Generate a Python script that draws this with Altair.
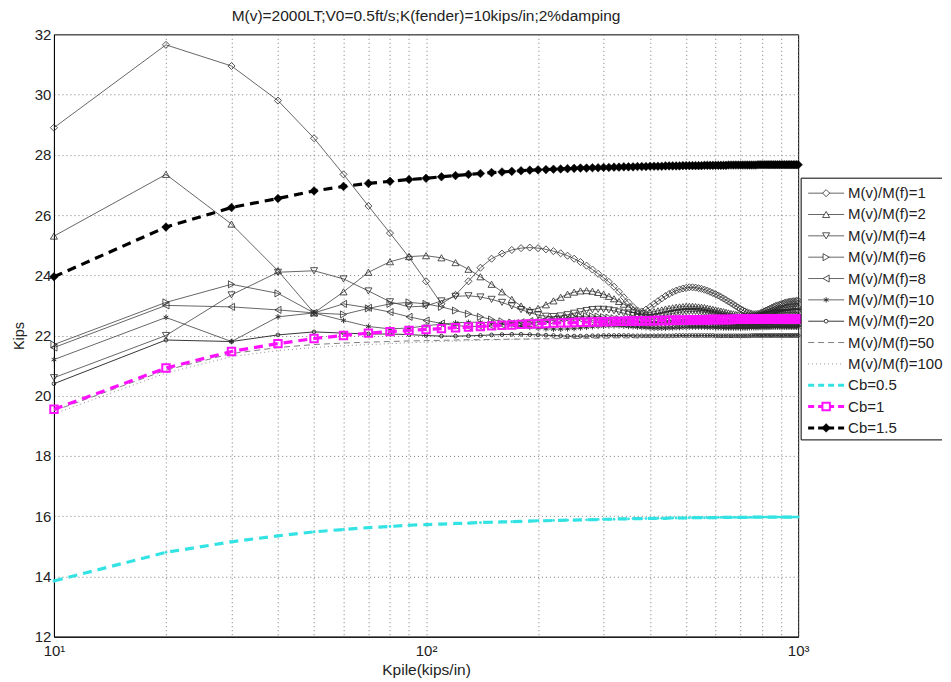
import altair as alt
import pandas as pd

TITLE = "M(v)=2000LT;V0=0.5ft/s;K(fender)=10kips/in;2%damping"

kpile = [10, 20, 30, 40, 50, 60, 70, 80, 90, 100,
         110, 120, 130, 140, 150, 160, 170, 180, 190, 200,
         210, 220, 230, 240, 250, 260, 270, 280, 290, 300,
         310, 320, 330, 340, 350, 360, 370, 380, 390, 400,
         410, 420, 430, 440, 450, 460, 470, 480, 490, 500,
         510, 520, 530, 540, 550, 560, 570, 580, 590, 600,
         610, 620, 630, 640, 650, 660, 670, 680, 690, 700,
         710, 720, 730, 740, 750, 760, 770, 780, 790, 800,
         810, 820, 830, 840, 850, 860, 870, 880, 890, 900,
         910, 920, 930, 940, 950, 960, 970, 980, 990, 1000]

m1 = [28.9, 31.65, 30.95, 29.8, 28.55, 27.35, 26.3, 25.4, 24.6, 23.8,
      23.05, 23.35, 23.8, 24.25, 24.55, 24.72, 24.84, 24.9, 24.92, 24.9,
      24.86, 24.8, 24.73, 24.65, 24.55, 24.44, 24.32, 24.19, 24.05, 23.92,
      23.78, 23.62, 23.45, 23.27, 23.1, 22.95, 22.83, 22.8, 22.86, 22.95,
      23.05, 23.14, 23.23, 23.31, 23.38, 23.44, 23.49, 23.53, 23.56, 23.58,
      23.6, 23.6, 23.59, 23.57, 23.55, 23.52, 23.49, 23.45, 23.41, 23.37,
      23.33, 23.28, 23.23, 23.18, 23.13, 23.08, 23.03, 22.98, 22.93, 22.88,
      22.84, 22.8, 22.77, 22.74, 22.72, 22.71, 22.71, 22.72, 22.74, 22.77,
      22.8, 22.83, 22.86, 22.89, 22.92, 22.95, 22.98, 23.0, 23.02, 23.04,
      23.06, 23.08, 23.1, 23.11, 23.12, 23.13, 23.14, 23.14, 23.15, 23.15]

m2 = [25.3, 27.35, 25.7, 24.15, 22.75, 23.45, 24.1, 24.45, 24.62, 24.65,
      24.58, 24.42, 24.2, 23.95, 23.7, 23.45, 23.2, 22.98, 22.85, 22.9,
      23.02, 23.15, 23.27, 23.37, 23.44, 23.48, 23.49, 23.47, 23.43, 23.37,
      23.3, 23.22, 23.13, 23.04, 22.95, 22.87, 22.8, 22.75, 22.74, 22.76,
      22.79, 22.82, 22.85, 22.88, 22.9, 22.92, 22.94, 22.95, 22.96, 22.97,
      22.97, 22.97, 22.96, 22.95, 22.94, 22.93, 22.91, 22.89, 22.87, 22.85,
      22.83, 22.81, 22.79, 22.77, 22.75, 22.73, 22.72, 22.7, 22.69, 22.68,
      22.67, 22.66, 22.66, 22.66, 22.66, 22.67, 22.68, 22.69, 22.7, 22.72,
      22.74, 22.76, 22.78, 22.8, 22.82, 22.84, 22.86, 22.88, 22.9, 22.91,
      22.92, 22.93, 22.94, 22.95, 22.96, 22.96, 22.97, 22.97, 22.98, 22.98]

m4 = [20.6, 22.0, 23.35, 24.1, 24.15, 23.88, 23.48, 23.12, 22.95, 22.98,
      23.15, 23.3, 23.32, 23.28, 23.2, 23.1, 22.98, 22.86, 22.76, 22.68,
      22.64, 22.63, 22.65, 22.69, 22.74, 22.79, 22.83, 22.86, 22.87, 22.87,
      22.85, 22.82, 22.78, 22.74, 22.7, 22.66, 22.63, 22.61, 22.6, 22.6,
      22.61, 22.63, 22.65, 22.68, 22.71, 22.73, 22.75, 22.77, 22.78, 22.79,
      22.8, 22.8, 22.8, 22.79, 22.78, 22.77, 22.75, 22.73, 22.71, 22.69,
      22.67, 22.65, 22.63, 22.61, 22.6, 22.58, 22.57, 22.56, 22.55, 22.55,
      22.55, 22.55, 22.56, 22.57, 22.58, 22.59, 22.6, 22.62, 22.63, 22.65,
      22.66, 22.68, 22.69, 22.7, 22.71, 22.72, 22.73, 22.74, 22.74, 22.75,
      22.75, 22.76, 22.76, 22.76, 22.77, 22.77, 22.77, 22.77, 22.77, 22.77]

m6 = [21.7, 23.1, 23.7, 23.4, 22.75, 22.7, 22.9, 23.05, 23.1, 23.05,
      22.95, 22.83, 22.72, 22.62, 22.53, 22.47, 22.43, 22.41, 22.41, 22.43,
      22.46, 22.5, 22.54, 22.58, 22.61, 22.63, 22.64, 22.64, 22.63, 22.61,
      22.59, 22.57, 22.55, 22.52, 22.5, 22.48, 22.46, 22.45, 22.44, 22.44,
      22.44, 22.45, 22.46, 22.47, 22.48, 22.49, 22.5, 22.51, 22.52, 22.52,
      22.53, 22.53, 22.53, 22.53, 22.52, 22.52, 22.51, 22.5, 22.49, 22.48,
      22.47, 22.46, 22.45, 22.44, 22.43, 22.43, 22.42, 22.42, 22.41, 22.41,
      22.41, 22.41, 22.41, 22.42, 22.42, 22.42, 22.43, 22.43, 22.44, 22.44,
      22.45, 22.45, 22.46, 22.46, 22.47, 22.47, 22.48, 22.48, 22.48, 22.49,
      22.49, 22.49, 22.49, 22.5, 22.5, 22.5, 22.5, 22.5, 22.5, 22.5]

m8 = [21.6, 23.0, 22.95, 22.85, 22.75, 23.05, 22.92, 22.78, 22.62, 22.5,
      22.4, 22.33, 22.3, 22.3, 22.32, 22.36, 22.4, 22.44, 22.48, 22.51,
      22.53, 22.55, 22.56, 22.56, 22.55, 22.54, 22.52, 22.5, 22.48, 22.46,
      22.44, 22.42, 22.4, 22.38, 22.37, 22.36, 22.35, 22.35, 22.35, 22.35,
      22.36, 22.37, 22.38, 22.39, 22.4, 22.41, 22.42, 22.42, 22.43, 22.43,
      22.43, 22.43, 22.43, 22.42, 22.42, 22.41, 22.4, 22.4, 22.39, 22.38,
      22.38, 22.37, 22.37, 22.36, 22.36, 22.35, 22.35, 22.35, 22.35, 22.35,
      22.35, 22.35, 22.36, 22.36, 22.36, 22.37, 22.37, 22.38, 22.38, 22.38,
      22.39, 22.39, 22.39, 22.4, 22.4, 22.4, 22.4, 22.41, 22.41, 22.41,
      22.41, 22.41, 22.41, 22.41, 22.41, 22.41, 22.41, 22.41, 22.41, 22.41]

m10 = [21.2, 22.6, 21.8, 22.62, 22.75, 22.5, 22.3, 22.22, 22.25, 22.32,
       22.38, 22.42, 22.44, 22.44, 22.42, 22.39, 22.35, 22.31, 22.27, 22.24,
       22.22, 22.21, 22.21, 22.22, 22.23, 22.25, 22.27, 22.29, 22.3, 22.31,
       22.32, 22.32, 22.32, 22.31, 22.3, 22.29, 22.28, 22.27, 22.26, 22.25,
       22.24, 22.24, 22.24, 22.24, 22.25, 22.25, 22.26, 22.26, 22.27, 22.27,
       22.28, 22.28, 22.28, 22.28, 22.28, 22.28, 22.27, 22.27, 22.27, 22.26,
       22.26, 22.26, 22.25, 22.25, 22.25, 22.25, 22.25, 22.25, 22.25, 22.25,
       22.25, 22.25, 22.25, 22.26, 22.26, 22.26, 22.26, 22.26, 22.27, 22.27,
       22.27, 22.27, 22.27, 22.27, 22.28, 22.28, 22.28, 22.28, 22.28, 22.28,
       22.28, 22.28, 22.28, 22.28, 22.28, 22.28, 22.28, 22.28, 22.28, 22.28]

m20 = [20.4, 21.85, 21.8, 22.02, 22.12, 22.08, 22.05, 22.05, 22.03, 22.0,
       21.98, 21.98, 21.99, 22.0, 22.02, 22.03, 22.04, 22.04, 22.03, 22.02,
       22.01, 22.0, 21.99, 21.98, 21.98, 21.98, 21.98, 21.99, 21.99, 22.0,
       22.0, 22.0, 22.0, 22.0, 22.0, 21.99, 21.99, 21.99, 21.99, 21.99,
       21.99, 21.99, 21.99, 21.99, 21.99, 21.99, 22.0, 22.0, 22.0, 22.0,
       22.0, 22.0, 22.0, 22.0, 22.0, 22.0, 22.0, 22.0, 22.0, 21.99,
       21.99, 21.99, 21.99, 21.99, 21.99, 21.99, 21.99, 21.99, 21.99, 21.99,
       21.99, 21.99, 21.99, 21.99, 22.0, 22.0, 22.0, 22.0, 22.0, 22.0,
       22.0, 22.0, 22.0, 22.0, 22.0, 22.0, 22.0, 22.0, 22.0, 22.0,
       22.0, 22.0, 22.0, 22.0, 22.0, 22.0, 22.0, 22.0, 22.0, 22.0]

m50 = [19.5, 20.85, 21.4, 21.6, 21.7, 21.75, 21.78, 21.8, 21.82, 21.83,
       21.84, 21.85, 21.86, 21.86, 21.87, 21.87, 21.88, 21.88, 21.88, 21.89,
       21.89, 21.89, 21.9, 21.9, 21.9, 21.9, 21.91, 21.91, 21.91, 21.91,
       21.91, 21.92, 21.92, 21.92, 21.92, 21.92, 21.92, 21.93, 21.93, 21.93,
       21.93, 21.93, 21.93, 21.93, 21.93, 21.94, 21.94, 21.94, 21.94, 21.94,
       21.94, 21.94, 21.94, 21.94, 21.94, 21.94, 21.94, 21.94, 21.94, 21.94,
       21.95, 21.95, 21.95, 21.95, 21.95, 21.95, 21.95, 21.95, 21.95, 21.95,
       21.95, 21.95, 21.95, 21.95, 21.95, 21.95, 21.95, 21.95, 21.95, 21.95,
       21.95, 21.95, 21.95, 21.95, 21.95, 21.95, 21.95, 21.95, 21.95, 21.95,
       21.95, 21.95, 21.95, 21.95, 21.95, 21.95, 21.95, 21.95, 21.95, 21.95]

m100 = [19.4, 20.75, 21.3, 21.5, 21.6, 21.66, 21.7, 21.73, 21.76, 21.78,
        21.8, 21.81, 21.83, 21.84, 21.85, 21.86, 21.87, 21.88, 21.89, 21.9,
        21.9, 21.91, 21.91, 21.92, 21.92, 21.93, 21.93, 21.94, 21.94, 21.94,
        21.95, 21.95, 21.95, 21.95, 21.96, 21.96, 21.96, 21.96, 21.96, 21.97,
        21.97, 21.97, 21.97, 21.97, 21.97, 21.97, 21.98, 21.98, 21.98, 21.98,
        21.98, 21.98, 21.98, 21.98, 21.98, 21.98, 21.98, 21.99, 21.99, 21.99,
        21.99, 21.99, 21.99, 21.99, 21.99, 21.99, 21.99, 21.99, 21.99, 21.99,
        21.99, 21.99, 22.0, 22.0, 22.0, 22.0, 22.0, 22.0, 22.0, 22.0,
        22.0, 22.0, 22.0, 22.0, 22.0, 22.0, 22.0, 22.0, 22.0, 22.0,
        22.0, 22.0, 22.0, 22.0, 22.0, 22.0, 22.0, 22.0, 22.0, 22.0]

cb05 = [13.85, 14.8, 15.15, 15.35, 15.48, 15.56, 15.62, 15.66, 15.7, 15.72,
        15.74, 15.76, 15.77, 15.79, 15.8, 15.81, 15.82, 15.83, 15.84, 15.85,
        15.85, 15.86, 15.86, 15.87, 15.87, 15.88, 15.88, 15.89, 15.89, 15.9,
        15.9, 15.9, 15.91, 15.91, 15.91, 15.92, 15.92, 15.92, 15.92, 15.93,
        15.93, 15.93, 15.93, 15.93, 15.94, 15.94, 15.94, 15.94, 15.94, 15.94,
        15.95, 15.95, 15.95, 15.95, 15.95, 15.95, 15.95, 15.95, 15.95, 15.95,
        15.96, 15.96, 15.96, 15.96, 15.96, 15.96, 15.96, 15.96, 15.96, 15.96,
        15.96, 15.96, 15.96, 15.96, 15.96, 15.97, 15.97, 15.97, 15.97, 15.97,
        15.97, 15.97, 15.97, 15.97, 15.97, 15.97, 15.97, 15.97, 15.97, 15.97,
        15.97, 15.97, 15.97, 15.97, 15.97, 15.97, 15.97, 15.97, 15.97, 15.97]

cb1 = [19.55, 20.92, 21.47, 21.73, 21.9, 22.0, 22.08, 22.13, 22.17, 22.2,
       22.23, 22.26, 22.28, 22.3, 22.32, 22.34, 22.35, 22.37, 22.38, 22.39,
       22.4, 22.41, 22.42, 22.42, 22.43, 22.44, 22.44, 22.45, 22.45, 22.46,
       22.46, 22.47, 22.47, 22.47, 22.48, 22.48, 22.48, 22.49, 22.49, 22.49,
       22.5, 22.5, 22.5, 22.5, 22.5, 22.51, 22.51, 22.51, 22.51, 22.51,
       22.52, 22.52, 22.52, 22.52, 22.52, 22.52, 22.52, 22.53, 22.53, 22.53,
       22.53, 22.53, 22.53, 22.53, 22.53, 22.53, 22.54, 22.54, 22.54, 22.54,
       22.54, 22.54, 22.54, 22.54, 22.54, 22.54, 22.54, 22.54, 22.55, 22.55,
       22.55, 22.55, 22.55, 22.55, 22.55, 22.55, 22.55, 22.55, 22.55, 22.55,
       22.55, 22.55, 22.55, 22.55, 22.55, 22.55, 22.55, 22.55, 22.55, 22.55]

cb15 = [23.95, 25.6, 26.25, 26.55, 26.8, 26.95, 27.05, 27.12, 27.18, 27.22,
        27.27, 27.31, 27.35, 27.38, 27.41, 27.43, 27.45, 27.47, 27.49, 27.5,
        27.51, 27.52, 27.53, 27.54, 27.55, 27.56, 27.56, 27.57, 27.57, 27.58,
        27.58, 27.59, 27.59, 27.6, 27.6, 27.6, 27.61, 27.61, 27.61, 27.62,
        27.62, 27.62, 27.62, 27.63, 27.63, 27.63, 27.63, 27.63, 27.64, 27.64,
        27.64, 27.64, 27.64, 27.64, 27.64, 27.65, 27.65, 27.65, 27.65, 27.65,
        27.65, 27.65, 27.65, 27.65, 27.66, 27.66, 27.66, 27.66, 27.66, 27.66,
        27.66, 27.66, 27.66, 27.66, 27.66, 27.66, 27.66, 27.67, 27.67, 27.67,
        27.67, 27.67, 27.67, 27.67, 27.67, 27.67, 27.67, 27.67, 27.67, 27.67,
        27.67, 27.67, 27.67, 27.67, 27.67, 27.67, 27.67, 27.67, 27.67, 27.67]

names = ["M(v)/M(f)=1", "M(v)/M(f)=2", "M(v)/M(f)=4", "M(v)/M(f)=6",
         "M(v)/M(f)=8", "M(v)/M(f)=10", "M(v)/M(f)=20", "M(v)/M(f)=50",
         "M(v)/M(f)=100", "Cb=0.5", "Cb=1", "Cb=1.5"]
values = [m1, m2, m4, m6, m8, m10, m20, m50, m100, cb05, cb1, cb15]

ytick_values = [12, 14, 16, 18, 20, 22, 24, 26, 28, 30, 32]
xgrid_values = [10, 20, 30, 40, 50, 60, 70, 80, 90,
                100, 200, 300, 400, 500, 600, 700, 800, 900, 1000]

# ---- styles ----
ASTERISK = "M0,-1L0,1M-0.87,-0.5L0.87,0.5M-0.87,0.5L0.87,-0.5"
LINE_C = "#404040"
MK_C = "#2a2a2a"
styles = {
    "M(v)/M(f)=1": dict(color=LINE_C, width=0.8, dash=None, shape="diamond", size=50, filled=False, mcolor=MK_C, mw=0.8),
    "M(v)/M(f)=2": dict(color=LINE_C, width=0.8, dash=None, shape="triangle-up", size=50, filled=False, mcolor=MK_C, mw=0.8),
    "M(v)/M(f)=4": dict(color=LINE_C, width=0.8, dash=None, shape="triangle-down", size=50, filled=False, mcolor=MK_C, mw=0.8),
    "M(v)/M(f)=6": dict(color=LINE_C, width=0.8, dash=None, shape="triangle-right", size=50, filled=False, mcolor=MK_C, mw=0.8),
    "M(v)/M(f)=8": dict(color=LINE_C, width=0.8, dash=None, shape="triangle-left", size=50, filled=False, mcolor=MK_C, mw=0.8),
    "M(v)/M(f)=10": dict(color=LINE_C, width=0.8, dash=None, shape=ASTERISK, size=30, filled=False, mcolor=MK_C, mw=0.9),
    "M(v)/M(f)=20": dict(color="#202020", width=0.9, dash=None, shape="circle", size=14, filled=False, mcolor=MK_C, mw=0.9),
    "M(v)/M(f)=50": dict(color="#707070", width=0.9, dash=[6, 4], shape=None),
    "M(v)/M(f)=100": dict(color="#808080", width=0.9, dash=[1, 3], shape=None),
    "Cb=0.5": dict(color="#33e3e3", width=3.2, dash=[9, 6], shape="circle", size=8, filled=True, mcolor="#33e3e3", mw=0),
    "Cb=1": dict(color="#ff10ff", width=3.2, dash=[9, 6], shape="square", size=55, filled=False, mcolor="#ff10ff", mw=2),
    "Cb=1.5": dict(color="#000000", width=3.2, dash=[9, 6], shape="diamond", size=75, filled=True, mcolor="#000000", mw=0.5),
}

rows = []
for name, vals in zip(names, values):
    for k, v in zip(kpile, vals):
        rows.append({"series": name, "k": k, "kips": v})
df = pd.DataFrame(rows)
legend_df = pd.DataFrame({"series": names})

FONT = "Liberation Sans"

x_enc = alt.X(
    "k:Q",
    scale=alt.Scale(type="log", domain=[10, 1000], nice=False),
    axis=alt.Axis(
        values=xgrid_values,
        labelExpr="datum.value == 10 ? '10¹' : datum.value == 100 ? '10²' : datum.value == 1000 ? '10³' : ''",
        title="Kpile(kips/in)",
        grid=True, gridDash=[1, 3], gridColor="#777777", gridWidth=1,
        ticks=False, labelPadding=7, labelFontSize=15, titleFontSize=15.5,
        titleFontWeight="normal", titlePadding=4, domainColor="#000000",
        labelColor="#222222", titleColor="#222222", labelFlush=False,
    ),
)
y_enc = alt.Y(
    "kips:Q",
    scale=alt.Scale(domain=[12, 32], nice=False, zero=False),
    axis=alt.Axis(
        values=ytick_values, format="d", title="Kips",
        grid=True, gridDash=[1, 3], gridColor="#777777", gridWidth=1,
        ticks=False, labelPadding=3, labelFontSize=15, titleFontSize=14.5,
        titleFontWeight="normal", titlePadding=8, domainColor="#000000",
        labelColor="#222222", titleColor="#222222",
    ),
)

main_layers = []
for name in names:
    st = styles[name]
    base = alt.Chart(df).transform_filter(alt.datum.series == name)
    lkw = dict(color=st["color"], strokeWidth=st["width"])
    if st["dash"]:
        lkw["strokeDash"] = st["dash"]
    main_layers.append(base.mark_line(**lkw).encode(x=x_enc, y=y_enc, order="k:Q"))
    if st["shape"]:
        pkw = dict(shape=st["shape"], size=st["size"], filled=st["filled"],
                   opacity=1, strokeWidth=st["mw"])
        if st["filled"]:
            pkw["fill"] = st["mcolor"]
            pkw["stroke"] = st["mcolor"]
        else:
            pkw["stroke"] = st["mcolor"]
            pkw["fill"] = "transparent"
        main_layers.append(base.mark_point(**pkw).encode(x=x_enc, y=y_enc))

main = alt.layer(*main_layers)

# ---- legend box drawn through its own point scale ----
leg_y = alt.Y("series:N", scale=alt.Scale(type="point", domain=names, range=[159, 394], padding=0),
              axis=None, sort=names)
one = pd.DataFrame({"box": [1]})
legend_layers = [
    alt.Chart(one).mark_rect(fill="white", strokeWidth=0).encode(
        x=alt.value(748), x2=alt.value(889), y=alt.value(144), y2=alt.value(406)),
    alt.Chart(one).mark_rule(color="#000000", strokeWidth=1).encode(
        x=alt.value(748), x2=alt.value(889), y=alt.value(144)),
    alt.Chart(one).mark_rule(color="#000000", strokeWidth=1).encode(
        x=alt.value(748), x2=alt.value(889), y=alt.value(406)),
    alt.Chart(one).mark_rule(color="#000000", strokeWidth=1).encode(
        x=alt.value(748), y=alt.value(144), y2=alt.value(406)),
]
for name in names:
    st = styles[name]
    base = alt.Chart(legend_df).transform_filter(alt.datum.series == name)
    rkw = dict(color=st["color"], strokeWidth=st["width"] if st["width"] < 2 else 3)
    if st["dash"]:
        rkw["strokeDash"] = [6, 4] if st["width"] > 2 else st["dash"]
    legend_layers.append(base.mark_rule(**rkw).encode(x=alt.value(755), x2=alt.value(791), y=leg_y))
    if st["shape"] and name != "Cb=0.5":
        pkw = dict(shape=st["shape"], size=st["size"], filled=st["filled"],
                   opacity=1, strokeWidth=st["mw"])
        if st["filled"]:
            pkw["fill"] = st["mcolor"]
            pkw["stroke"] = st["mcolor"]
        else:
            pkw["stroke"] = st["mcolor"]
            pkw["fill"] = "white"
        legend_layers.append(base.mark_point(**pkw).encode(x=alt.value(773), y=leg_y))
legend_layers.append(
    alt.Chart(legend_df).mark_text(align="left", baseline="middle", fontSize=15, font=FONT, color="#222222").encode(
        x=alt.value(795), y=leg_y, text="series:N")
)
legend = alt.layer(*legend_layers)

chart = alt.layer(main, legend).resolve_scale(x="independent", y="independent").properties(
    width=745, height=603,
    title=alt.Title(TITLE, fontSize=15.5, fontWeight="normal", font=FONT, anchor="middle", offset=3, color="#222222"),
    padding={"left": 3, "top": 0, "right": 0, "bottom": 0},
).configure(font=FONT).configure_view(stroke="#000000", strokeWidth=1)

chart.save("out.html", embed_options={"renderer": "svg", "actions": False})
